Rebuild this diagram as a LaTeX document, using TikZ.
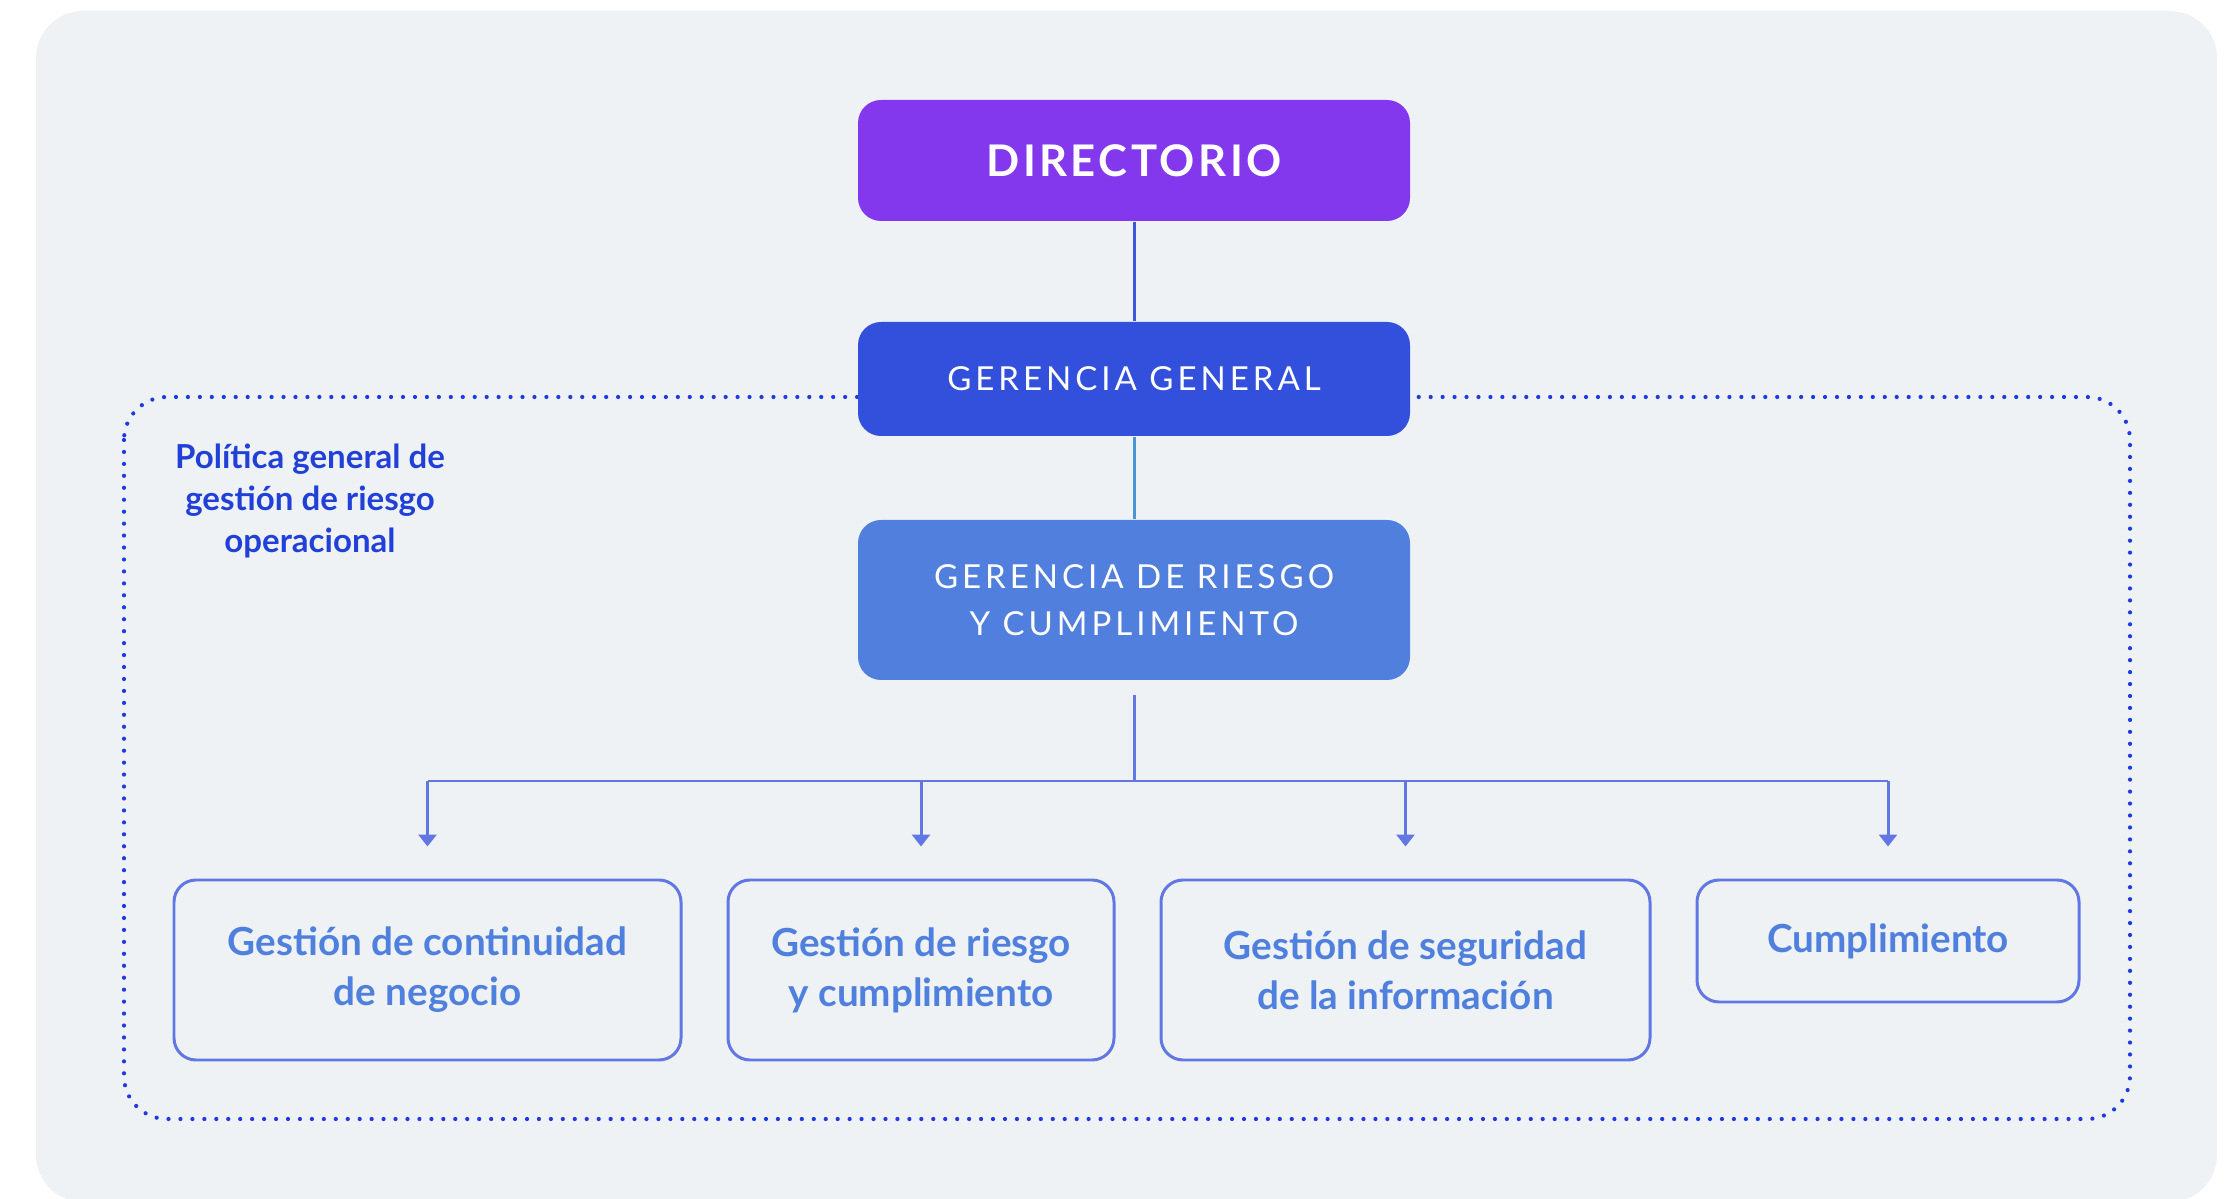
\documentclass[tikz,border=0pt]{standalone}
\usepackage{fontspec}
\setmainfont{Lato}
\newfontfamily\capsfont[LetterSpace=12]{Lato}
\newfontfamily\capsboldfont[LetterSpace=8]{Lato Bold}
\usetikzlibrary{positioning, arrows.meta}

\definecolor{panelgrey}{HTML}{EFF2F5}
\definecolor{directoriopurple}{HTML}{8338EE}
\definecolor{generalblue}{HTML}{3350DC}
\definecolor{riesgoblue}{HTML}{517FDE}
\definecolor{linkblue}{HTML}{6177E4}
\definecolor{darklink}{HTML}{3E58D6}
\definecolor{lightlink}{HTML}{4A95D6}
\definecolor{dotblue}{HTML}{1F3BE0}
\definecolor{areablue}{HTML}{5080DD}
\definecolor{policyblue}{HTML}{2140D8}

\begin{document}
\begin{tikzpicture}[
    topbox/.style={rounded corners=0.23cm, minimum width=5.52cm, inner sep=0pt, text=white, align=center},
    areabox/.style={draw=linkblue, line width=0.85pt, rounded corners=0.22cm, inner sep=0pt,
      text=areablue, align=center, font=\bfseries\fontsize{11}{14.2}\selectfont},
    link/.style={line width=0.85pt},
    arr/.style={link, draw=linkblue, -{Triangle[width=0.18cm, length=0.12cm]}, shorten >=0.32cm}
  ]
  \useasboundingbox (0,0) rectangle (22.34,-11.99);
  \begin{scope}
    \clip (0,0) rectangle (22.34,-11.99);
    \fill[panelgrey, rounded corners=0.47cm] (0.36,-0.11) rectangle (22.17,-12.02);
  \end{scope}
  \draw[dotblue, line width=1.2pt, line cap=round, dash pattern=on 0pt off 3.4pt,
    rounded corners=0.43cm] (1.24,-3.97) rectangle (21.30,-11.19);

  \node[topbox, fill=directoriopurple, minimum height=1.21cm,
    font=\capsboldfont\fontsize{12.4}{15}\selectfont] (dir) at (11.34,-1.605) {DIRECTORIO};
  \node[topbox, fill=generalblue, minimum height=1.14cm,
    font=\capsfont\fontsize{9.4}{13}\selectfont] (gg) at (11.34,-3.79) {GERENCIA GENERAL};
  \node[topbox, fill=riesgoblue, minimum height=1.60cm,
    font=\capsfont\fontsize{9.4}{13.3}\selectfont] (grc) at (11.34,-6.0) {GERENCIA DE RIESGO\\Y CUMPLIMIENTO};

  \node[text=policyblue, align=center, font=\bfseries\fontsize{9.4}{11.9}\selectfont] (politica)
    at (3.10,-5.01) {Política general de\\gestión de riesgo\\operacional};

  \node[areabox, minimum width=5.07cm, minimum height=1.80cm] (continuidad) at (4.275,-9.70)
    {Gestión de continuidad\\de negocio};
  \node[areabox, minimum width=3.86cm, minimum height=1.80cm] (gestion) at (9.21,-9.70)
    {Gestión de riesgo\\y cumplimiento};
  \node[areabox, minimum width=4.89cm, minimum height=1.80cm] (seguridad) at (14.055,-9.70)
    {Gestión de seguridad\\de la información};
  \node[areabox, minimum width=3.82cm, minimum height=1.22cm] (cumplimiento) at (18.88,-9.41)
    {Cumplimiento};

  \coordinate (bus) at (11.34,-7.81);
  \draw[link, darklink] (dir) -- (gg);
  \draw[link, lightlink] (gg) -- (grc);
  \draw[link, linkblue, shorten <=0.14cm] (grc.south) -- (bus);
  \draw[link, linkblue] (continuidad.north |- bus) -- (cumplimiento.north |- bus);
  \draw[arr] (continuidad.north |- bus) -- (continuidad.north);
  \draw[arr] (gestion.north |- bus) -- (gestion.north);
  \draw[arr] (seguridad.north |- bus) -- (seguridad.north);
  \draw[arr] (cumplimiento.north |- bus) -- (cumplimiento.north);
\end{tikzpicture}
\end{document}
